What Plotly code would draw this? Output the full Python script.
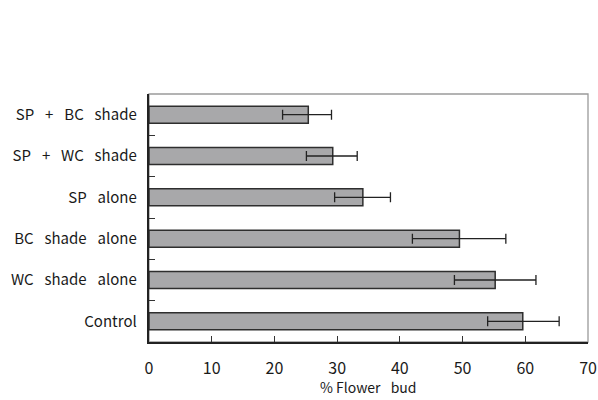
import plotly.graph_objects as go

# Treatments listed bottom-to-top
treatments = ["Control", "WC shade alone", "BC shade alone", "SP alone",
              "SP + WC shade", "SP + BC shade"]
flower_bud = [59.6, 55.2, 49.5, 34.1, 29.3, 25.4]
err_plus = [5.8, 6.5, 7.4, 4.4, 3.9, 3.7]
err_minus = [5.6, 6.5, 7.5, 4.5, 4.2, 4.1]
x_ticks = [0, 10, 20, 30, 40, 50, 60, 70]
x_title = "% Flower bud"

GAP = "\u2002\u00a0"
def spaced(label):
    return label.replace(" ", GAP) + "\u2002"

labels = [spaced(t) for t in treatments]

fig = go.Figure()
fig.add_trace(go.Bar(
    y=labels,
    x=flower_bud,
    orientation="h",
    width=0.41,
    marker=dict(color="#a8a8aa", line=dict(color="#2e2e2e", width=1.5)),
    error_x=dict(type="data", symmetric=False, array=err_plus,
                 arrayminus=err_minus, color="#222222", thickness=1.3, width=5),
))

fig.update_layout(
    width=598, height=400,
    margin=dict(l=149, r=10, t=94, b=58, autoexpand=False),
    paper_bgcolor="white", plot_bgcolor="white",
    showlegend=False,
    font=dict(family="Noto Sans CJK JP, Noto Sans, sans-serif", color="#1a1a1a", size=15),
    xaxis=dict(
        range=[0, 70], tickvals=x_ticks, ticks="inside", ticklen=6,
        tickcolor="#333333", showgrid=False, zeroline=False,
        showline=True, linecolor="#222222", linewidth=1.5, automargin=False,
        ticklabelstandoff=11, tickfont=dict(size=16),
    ),
    yaxis=dict(
        type="category", categoryorder="array", categoryarray=labels,
        ticks="inside", tickson="boundaries", ticklen=6, tickcolor="#333333",
        showgrid=False, showline=True, linecolor="#222222", linewidth=1.5,
        automargin=False, ticklabelstandoff=0, tickfont=dict(size=15),
    ),
    shapes=[dict(type="rect", xref="paper", yref="paper", x0=0, x1=1, y0=0, y1=1,
                 line=dict(color="#9a9a9a", width=1.3), layer="below")],
    annotations=[dict(text=x_title.replace("% ", "%\u00a0").replace(" ", GAP),
                      xref="paper", yref="paper", x=0.5, y=0,
                      xanchor="center", yanchor="bottom", yshift=-57,
                      showarrow=False, font=dict(size=14))],
)

fig.write_html("out.html")
